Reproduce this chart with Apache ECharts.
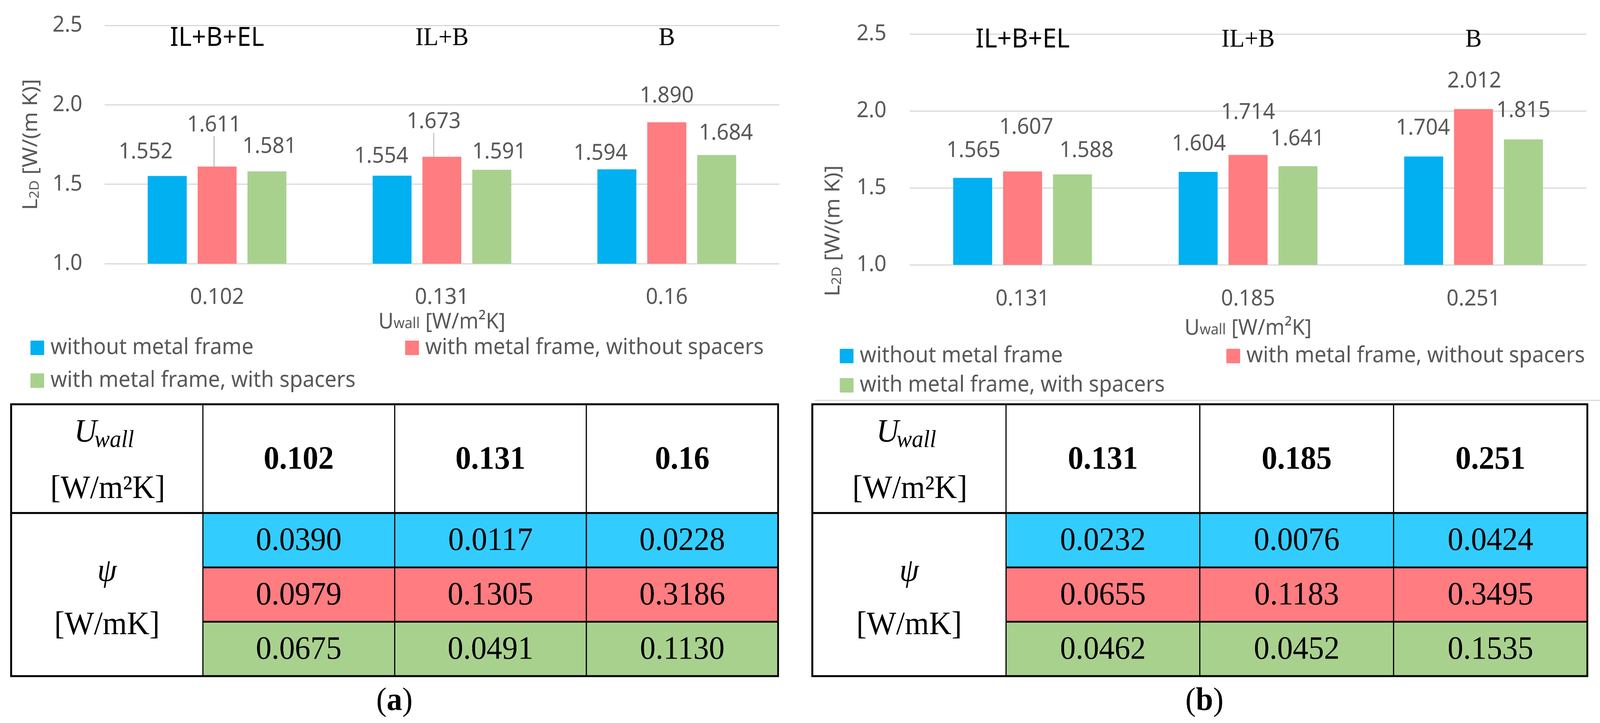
<!DOCTYPE html>
<html>
<head>
<meta charset="utf-8">
<script src="https://cdn.jsdelivr.net/npm/echarts@6/dist/echarts.min.js"></script>
<style>html,body{margin:0;padding:0;background:#fff;overflow:hidden;}#c{width:4312px;height:1851px;transform-origin:0 0;}</style>
</head>
<body>
<div id="c"></div>
<script>
// ---------------- DATA ----------------
const seriesNames = ['without metal frame', 'with metal frame, without spacers', 'with metal frame, with spacers'];
const groups = ['IL+B+EL', 'IL+B', 'B'];
const yTicks = [1.0, 1.5, 2.0, 2.5];

const uwallA = ['0.102', '0.131', '0.16'];
const l2dA_without = [1.552, 1.554, 1.594];
const l2dA_noSpacers = [1.611, 1.673, 1.890];
const l2dA_spacers = [1.581, 1.591, 1.684];
const psiA_without = ['0.0390', '0.0117', '0.0228'];
const psiA_noSpacers = ['0.0979', '0.1305', '0.3186'];
const psiA_spacers = ['0.0675', '0.0491', '0.1130'];

const uwallB = ['0.131', '0.185', '0.251'];
const l2dB_without = [1.565, 1.604, 1.704];
const l2dB_noSpacers = [1.607, 1.714, 2.012];
const l2dB_spacers = [1.588, 1.641, 1.815];
const psiB_without = ['0.0232', '0.0076', '0.0424'];
const psiB_noSpacers = ['0.0655', '0.1183', '0.3495'];
const psiB_spacers = ['0.0462', '0.0452', '0.1535'];

// ---------------- STYLE / LAYOUT ----------------
const GRAY = '#595959';
const SANS = 'Noto Sans';
const SERIF = 'Liberation Serif';
const barColors = ['#00B0F0', '#FF7C80', '#A9D18E'];
const cellColors = ['#33CCFF', '#FF7C80', '#A9D18E'];

// fit the 4312x1851 design into whatever viewport the browser actually gives
(function () {
  const el = document.getElementById('c');
  const sx = (window.innerWidth || 4312) / 4312;
  const sy = (window.innerHeight || 1851) / 1851;
  el.style.transform = 'scale(' + sx + ',' + sy + ')';
})();

const panels = [
  {
    cats: uwallA, vals: [l2dA_without, l2dA_noSpacers, l2dA_spacers],
    psi: [psiA_without, psiA_noSpacers, psiA_spacers], caption: 'a',
    grid: {left: 282, top: 65, width: 1818, height: 610},
    yLabelMargin: 60, xLabelMargin: 62, groupMargin: 18, nameGap: 127,
    yName: [84, 370],
    legend: [[82, 862], [1092, 862], [82, 946]],
    table: {left: 30, top: 1035, width: 2067, height: 696},
    captionPos: [1063, 1796],
    shifts: [[[-58, -33], [-29, -21], [-44, -12]], [[-8, -78], [-22, -61], [0, -39]], [[7, -35], [20, -17], [25, -27]]],
    leader: [[false, false, false], [true, true, false], [false, false, false]]
  },
  {
    cats: uwallB, vals: [l2dB_without, l2dB_noSpacers, l2dB_spacers],
    psi: [psiB_without, psiB_noSpacers, psiB_spacers], caption: 'b',
    grid: {left: 2452, top: 87, width: 1823, height: 591},
    yLabelMargin: 63, xLabelMargin: 63, groupMargin: 0, nameGap: 140,
    yName: [2246, 591],
    legend: [[2263, 883], [3305, 883], [2263, 958]],
    table: {left: 2189, top: 1035, width: 2089, height: 696},
    captionPos: [3246, 1796],
    shifts: [[[2, -41], [2, -43], [-2, -44]], [[10, -84], [0, -80], [2, -43]], [[38, -32], [-1, -41], [0, -45]]],
    leader: [[false, false, false], [false, false, false], [false, false, false]]
  }
];

const grids = [], xAxes = [], yAxes = [], series = [], legends = [], titles = [], graphics = [];

panels.forEach((P, pi) => {
  const gi = grids.length;
  grids.push(Object.assign({containLabel: false}, P.grid));
  const xi = xAxes.length;
  xAxes.push({
    gridIndex: gi, type: 'category', data: P.cats, position: 'bottom',
    axisLine: {show: false}, axisTick: {show: false},
    axisLabel: {fontFamily: SANS, fontSize: 57, lineHeight: 50, color: GRAY, margin: P.xLabelMargin},
    name: 'U{sub|wall} [W/m²K]', nameLocation: 'middle', nameGap: P.nameGap,
    nameTextStyle: {fontFamily: SANS, fontSize: 56, color: GRAY, lineHeight: 46,
      rich: {sub: {fontFamily: SANS, fontSize: 38, color: GRAY, verticalAlign: 'bottom', lineHeight: 46}}}
  });
  xAxes.push({
    gridIndex: gi, type: 'category', data: groups, position: 'top',
    axisLine: {show: false}, axisTick: {show: false},
    axisLabel: {inside: true, margin: P.groupMargin,
      formatter: (v, i) => i === 0 ? '{s|' + v + '}' : '{r|' + v + '}',
      rich: {
        s: {fontFamily: SANS, fontSize: 68, color: '#000', lineHeight: 30},
        r: {fontFamily: SERIF, fontSize: 66, color: '#000', lineHeight: 30}
      }}
  });
  const yi = yAxes.length;
  yAxes.push({
    gridIndex: gi, type: 'value', min: yTicks[0], max: yTicks[yTicks.length - 1], interval: 0.5,
    axisLine: {show: false}, axisTick: {show: false},
    splitLine: {show: true, lineStyle: {color: '#D9D9D9', width: 3}},
    axisLabel: {fontFamily: SANS, fontSize: 57, color: GRAY, margin: P.yLabelMargin, formatter: v => v.toFixed(1)}
  });
  P.vals.forEach((arr, s) => {
    series.push({
      type: 'bar', name: seriesNames[s], xAxisIndex: xi, yAxisIndex: yi,
      barWidth: 105, barGap: '28%',
      itemStyle: {color: barColors[s]},
      data: arr.map((v, i) => ({value: v, labelLine: {show: P.leader[s][i]}})),
      label: {show: true, position: 'top', distance: 0, formatter: p => p.value.toFixed(3),
        fontFamily: SANS, fontSize: 57, lineHeight: 57, color: GRAY},
      labelLine: {show: P.leader[s].some(x => x), lineStyle: {color: '#A6A6A6', width: 2}},
      labelLayout: (params) => ({dx: P.shifts[s][params.dataIndex][0], dy: P.shifts[s][params.dataIndex][1]}),
      silent: true, animation: false
    });
  });
  graphics.push({
    type: 'text', x: P.yName[0], y: P.yName[1], rotation: Math.PI / 2,
    style: {text: 'L{sub|2D} [W/(m K)]', fill: GRAY, fontFamily: SANS, fontSize: 56,
      align: 'center', verticalAlign: 'middle',
      rich: {sub: {fontFamily: SANS, fontSize: 36, fill: GRAY, verticalAlign: 'bottom', lineHeight: 56}}}
  });
  P.legend.forEach((pos, s) => {
    legends.push({
      data: [seriesNames[s]], left: pos[0], top: pos[1], padding: 0,
      itemWidth: 37, itemHeight: 37, icon: 'rect', selectedMode: false,
      textStyle: {fontFamily: SANS, fontSize: 57, color: GRAY, lineHeight: 54, padding: [0, 0, 0, 12]}
    });
  });

  const ti = grids.length;
  grids.push(Object.assign({containLabel: false}, P.table));
  const txi = xAxes.length;
  xAxes.push({gridIndex: ti, type: 'value', min: 0, max: 4, show: false});
  const tyi = yAxes.length;
  yAxes.push({gridIndex: ti, type: 'value', min: 0, max: 5, inverse: true, show: false});

  const cells = [];
  cells.push({c0: 0, r0: 0, c1: 1, r1: 2, kind: 'uhead'});
  P.cats.forEach((c, i) => cells.push({c0: i + 1, r0: 0, c1: i + 2, r1: 2, kind: 'head', text: c}));
  cells.push({c0: 0, r0: 2, c1: 1, r1: 5, kind: 'psi'});
  P.psi.forEach((row, s) => row.forEach((v, i) =>
    cells.push({c0: i + 1, r0: s + 2, c1: i + 2, r1: s + 3, kind: 'val', text: v, fill: cellColors[s]})));
  cells.push({c0: 0, r0: 0, c1: 4, r1: 5, kind: 'frame'});

  series.push({
    type: 'custom', xAxisIndex: txi, yAxisIndex: tyi, silent: true, clip: false, animation: false,
    data: cells.map(c => [c.c0, c.r0, c.c1, c.r1]),
    renderItem: (params, api) => {
      const cell = cells[params.dataIndex];
      const a = api.coord([api.value(0), api.value(1)]);
      const b = api.coord([api.value(2), api.value(3)]);
      const x = Math.min(a[0], b[0]), y = Math.min(a[1], b[1]);
      const w = Math.abs(b[0] - a[0]), h = Math.abs(b[1] - a[1]);
      const cx = x + w / 2, cy = y + h / 2;
      const serifText = (tx, ty, text, size, weight, style, align) => ({
        type: 'text', x: tx, y: ty,
        style: {text: text, fill: '#000', fontFamily: SERIF, fontSize: size, fontWeight: weight || 'normal',
          fontStyle: style || 'normal', align: align || 'center', verticalAlign: 'middle'}
      });
      if (cell.kind === 'frame') {
        const yDiv = api.coord([0, 2])[1];
        const y3 = api.coord([0, 3])[1];
        const y4 = api.coord([0, 4])[1];
        const x1 = api.coord([1, 0])[0];
        return {type: 'group', children: [
          {type: 'rect', shape: {x: x, y: y, width: w, height: h}, style: {fill: null, stroke: '#000', lineWidth: 5}},
          {type: 'line', shape: {x1: x, y1: yDiv, x2: x + w, y2: yDiv}, style: {stroke: '#000', lineWidth: 5}},
          {type: 'line', shape: {x1: x1, y1: y3, x2: x + w, y2: y3}, style: {stroke: '#000', lineWidth: 4.5}},
          {type: 'line', shape: {x1: x1, y1: y4, x2: x + w, y2: y4}, style: {stroke: '#000', lineWidth: 4.5}}
        ]};
      }
      const rect = {type: 'rect', shape: {x: x, y: y, width: w, height: h},
        style: {fill: cell.fill || '#fff', stroke: '#000', lineWidth: 3}};
      const children = [rect];
      if (cell.kind === 'uhead') {
        children.push(serifText(cx - 58, y + h * 0.264, 'U', 84, 'normal', 'italic'));
        children.push(serifText(cx - 34, y + h * 0.335, 'wall', 62, 'normal', 'italic', 'left'));
        children.push(serifText(cx + 2, y + h * 0.783, '[W/m²K]', 84));
      } else if (cell.kind === 'head') {
        children.push(serifText(cx, cy + 4, cell.text, 84, 'bold'));
      } else if (cell.kind === 'psi') {
        children.push(serifText(cx, y + h * 0.363, 'ψ', 84, 'normal', 'italic'));
        children.push(serifText(cx, y + h * 0.69, '[W/mK]', 84));
      } else {
        children.push(serifText(cx, cy + 3, cell.text, 84));
      }
      return {type: 'group', children: children};
    }
  });

  titles.push({
    text: '({b|' + P.caption + '})', left: P.captionPos[0], top: P.captionPos[1] - 45, textAlign: 'center', padding: 0,
    textStyle: {fontFamily: SERIF, fontSize: 84, fontWeight: 'normal', color: '#000', lineHeight: 90,
      rich: {b: {fontFamily: SERIF, fontSize: 84, fontWeight: 'bold', color: '#000', lineHeight: 90}}}
  });
});

graphics.push({type: 'line', shape: {x1: 2196, y1: 1025, x2: 4312, y2: 1025}, style: {stroke: '#D9D9D9', lineWidth: 3}, silent: true});

const chart = echarts.init(document.getElementById('c'), null, {renderer: 'canvas', devicePixelRatio: 2, width: 4312, height: 1851});
chart.setOption({
  backgroundColor: '#ffffff',
  animation: false,
  textStyle: {fontFamily: SANS},
  grid: grids, xAxis: xAxes, yAxis: yAxes, series: series,
  legend: legends, title: titles, graphic: graphics
});
</script>
</body>
</html>
